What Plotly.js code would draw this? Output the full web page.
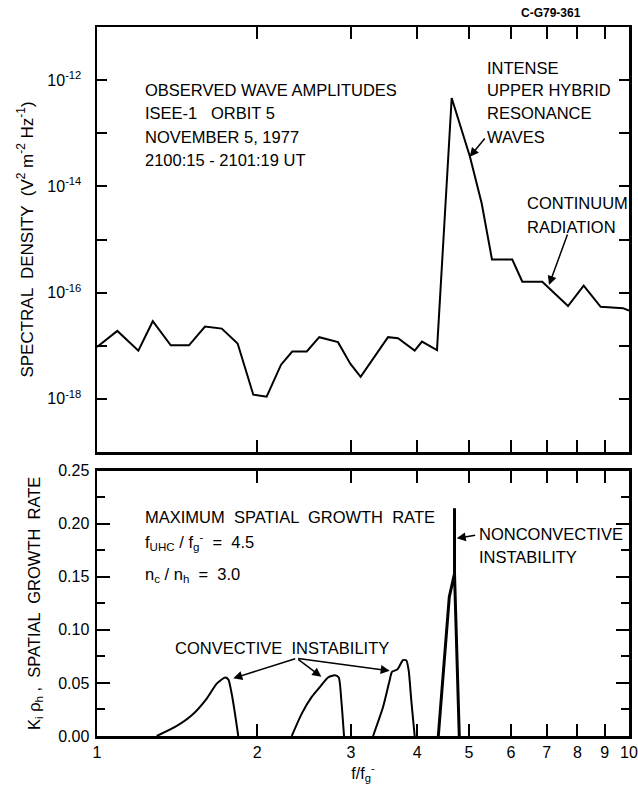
<!DOCTYPE html>
<html><head><meta charset="utf-8">
<script src="https://cdn.plot.ly/plotly-3.0.1.min.js"></script>
<style>html,body{margin:0;padding:0;background:#fff}#chart{width:638px;height:792px}</style>
</head><body><div id="chart"></div>
<script>
// ---- data ----
const spectrumFreq = [1.0, 1.092, 1.196, 1.273, 1.376, 1.489, 1.596, 1.716, 1.838, 1.967, 2.084, 2.218, 2.328, 2.479, 2.617, 2.838, 2.993, 3.130, 3.524, 3.680, 3.955, 4.082, 4.356, 4.642, 5.024, 5.285, 5.527, 6.034, 6.302, 6.871, 7.680, 8.219, 8.845, 9.744, 10.0];
const spectrumDensity = [9.5e-18, 1.9e-17, 8.1e-18, 2.9e-17, 1.02e-17, 1.02e-17, 2.3e-17, 2.1e-17, 1.1e-17, 1.2e-18, 1.1e-18, 4.4e-18, 7.8e-18, 7.8e-18, 1.45e-17, 1.17e-17, 4.6e-18, 2.6e-18, 1.45e-17, 1.38e-17, 8.1e-18, 1.2e-17, 8.3e-18, 4.6e-13, 3.6e-14, 4.8e-15, 4.2e-16, 4.2e-16, 1.6e-16, 1.6e-16, 5.6e-17, 1.35e-16, 5.4e-17, 5.1e-17, 4.6e-17];

const conv1Freq = [1.295, 1.402, 1.507, 1.608, 1.679, 1.741, 1.766, 1.791, 1.817, 1.843];
const conv1Rate = [0, 0.0085, 0.0195, 0.0353, 0.0494, 0.0551, 0.0532, 0.040, 0.0211, 0];
const conv2Freq = [2.323, 2.426, 2.533, 2.625, 2.718, 2.798, 2.847, 2.879, 2.913];
const conv2Rate = [0, 0.0211, 0.0368, 0.0462, 0.0551, 0.0573, 0.0551, 0.0337, 0];
const conv3Freq = [3.303, 3.449, 3.549, 3.585, 3.668, 3.760, 3.813, 3.853, 3.897, 3.955];
const conv3Rate = [0, 0.0274, 0.0525, 0.0604, 0.0626, 0.0714, 0.0714, 0.062, 0.0337, 0];
const nonconvFreq = [4.381, 4.594, 4.699, 4.699, 4.699, 4.797];
const nonconvRate = [0, 0.131, 0.153, 0.2145, 0.153, 0];

const xTickVals = [1, 2, 3, 4, 5, 6, 7, 8, 9, 10];
const xTickText = ['1', '2', '3', '4', '5', '6', '7', '8', '9', '10'];
const densityTickVals = [1e-18, 1e-16, 1e-14, 1e-12];
const densityTickText = ['10<sup>-18</sup>', '10<sup>-16</sup>', '10<sup>-14</sup>', '10<sup>-12</sup>'];
const densityMinorVals = [1e-19, 1e-17, 1e-15, 1e-13, 1e-11];

// ---- layout helpers ----
const FONT = 'Liberation Sans, Arial, sans-serif';
const W = 638, H = 792, ML = 97, MR = 9, MT = 27, MB = 56;
const PW = W - ML - MR, PH = H - MT - MB;
const px = v => (v - ML) / PW;
const py = v => (H - MB - v) / PH;

const splineLine = {color: '#000', width: 2, shape: 'spline', smoothing: 0.6};
const traces = [
  {x: spectrumFreq, y: spectrumDensity, xaxis: 'x2', yaxis: 'y2', type: 'scatter', mode: 'lines', line: {color: '#000', width: 2}, showlegend: false},
  {x: conv1Freq, y: conv1Rate, type: 'scatter', mode: 'lines', line: splineLine, showlegend: false},
  {x: conv2Freq, y: conv2Rate, type: 'scatter', mode: 'lines', line: splineLine, showlegend: false},
  {x: conv3Freq, y: conv3Rate, type: 'scatter', mode: 'lines', line: splineLine, showlegend: false},
  {x: nonconvFreq, y: nonconvRate, type: 'scatter', mode: 'lines', line: {color: '#000', width: 3}, showlegend: false}
];

const axisCommon = {
  showline: true, linecolor: '#000', linewidth: 2.5, mirror: 'ticks',
  ticks: 'inside', ticklen: 12, tickwidth: 2, tickcolor: '#000',
  showgrid: false, zeroline: false,
  tickfont: {family: FONT, size: 16, color: '#000'}
};
const TF = {family: FONT, size: 16.5, color: '#000'};

function txt(text, x, y, opts) {
  return Object.assign({text: text, xref: 'paper', yref: 'paper', x: px(x), y: py(y),
    xanchor: 'left', yanchor: 'middle', showarrow: false, font: TF}, opts || {});
}
function arrow(hx, hy, tx, ty) {
  return {text: '', xref: 'paper', yref: 'paper', x: px(hx), y: py(hy),
    ax: tx - hx, ay: ty - hy, showarrow: true, arrowhead: 2, arrowsize: 1.2,
    arrowwidth: 1.5, arrowcolor: '#000', standoff: 0, startstandoff: 0};
}

const annotations = [
  txt('OBSERVED WAVE AMPLITUDES', 142.7, 90),
  txt('ISEE-1   ORBIT 5', 142.7, 113.3),
  txt('NOVEMBER 5, 1977', 142.7, 136.7),
  txt('2100:15 - 2101:19 UT', 142.7, 160),
  txt('INTENSE', 484.7, 68.3),
  txt('UPPER HYBRID', 484.7, 90),
  txt('RESONANCE', 484.7, 113.3),
  txt('WAVES', 484.7, 136.7),
  txt('CONTINUUM', 525.3, 203.3),
  txt('RADIATION', 525.3, 226.7),
  txt('MAXIMUM  SPATIAL  GROWTH  RATE', 142.7, 516.7),
  txt('f<sub>UHC</sub> / f<sub>g</sub><sup>-</sup>  =  4.5', 142.7, 541.7),
  txt('n<sub>c</sub> / n<sub>h</sub>  =  3.0', 142.7, 575),
  txt('NONCONVECTIVE', 477.3, 534.3),
  txt('INSTABILITY', 477.3, 556.7),
  txt('CONVECTIVE  INSTABILITY', 282, 648.3, {xanchor: 'center'}),
  txt('<b>C-G79-361</b>', 551, 13, {xanchor: 'center', font: {family: FONT, size: 12, color: '#000'}}),
  arrow(469.7, 156.7, 486, 137),
  arrow(549, 285, 568, 233),
  arrow(233.3, 678.3, 296.7, 658.3),
  arrow(321.3, 676.7, 296.7, 658.3),
  arrow(389.7, 670.7, 296.7, 658.3),
  arrow(456.7, 538.3, 476.7, 535)
];

const layout = {
  width: W, height: H,
  margin: {l: ML, r: MR, t: MT, b: MB},
  paper_bgcolor: '#fff', plot_bgcolor: '#fff',
  font: {family: FONT, size: 16, color: '#000'},
  showlegend: false,
  xaxis: Object.assign({}, axisCommon, {
    type: 'log', range: [0, 1], anchor: 'y', domain: [0, 1],
    tickmode: 'array', tickvals: xTickVals, ticktext: xTickText,
    title: {text: 'f/f<sub>g</sub><sup>-</sup>', font: {family: FONT, size: 16, color: '#000'}, standoff: 8}
  }),
  yaxis: Object.assign({}, axisCommon, {
    range: [0, 0.25], domain: [0, py(470.7)], anchor: 'x',
    dtick: 0.05, tick0: 0, tickformat: '.2f', ticklen: 13,
    minor: {dtick: 0.025, tick0: 0, ticks: 'inside', ticklen: 8, tickwidth: 2, tickcolor: '#000'},
    ticklabelstandoff: 2,
    title: {text: 'K<sub>i</sub> ρ<sub>h</sub> ,  SPATIAL  GROWTH  RATE', font: {family: FONT, size: 16.5, color: '#000'}, standoff: 14}
  }),
  xaxis2: Object.assign({}, axisCommon, {
    type: 'log', range: [0, 1], anchor: 'y2', domain: [0, 1],
    tickmode: 'array', tickvals: xTickVals, showticklabels: false
  }),
  yaxis2: Object.assign({}, axisCommon, {
    type: 'log', range: [-19, -11], domain: [py(452), 1], anchor: 'x2',
    tickmode: 'array', tickvals: densityTickVals, ticktext: densityTickText, ticklen: 10,
    minor: {tickmode: 'array', tickvals: densityMinorVals, ticks: 'inside', ticklen: 10, tickwidth: 2, tickcolor: '#000'},
    ticklabelstandoff: 10,
    title: {text: 'SPECTRAL  DENSITY  (V<sup>2</sup> m<sup>-2</sup> Hz<sup>-1</sup>)', font: {family: FONT, size: 17, color: '#000'}, standoff: 10}
  }),
  annotations: annotations
};

Plotly.newPlot('chart', traces, layout, {staticPlot: true, displayModeBar: false});
</script>
</body></html>
